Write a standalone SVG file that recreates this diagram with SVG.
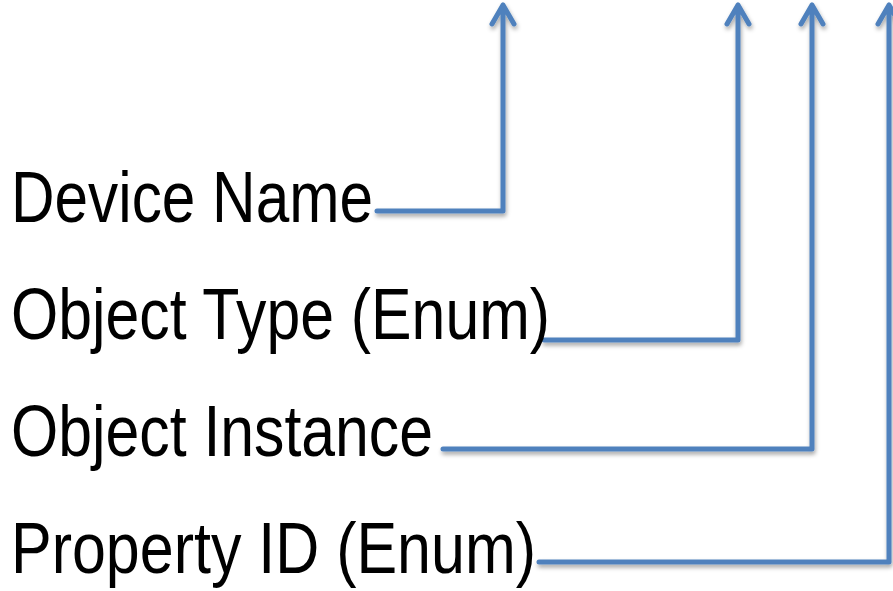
<svg xmlns="http://www.w3.org/2000/svg" width="893" height="591" viewBox="0 0 893 591">
  <defs>
    <filter id="shadow" x="-10%" y="-10%" width="130%" height="130%">
      <feDropShadow dx="1" dy="3" stdDeviation="2" flood-color="#000" flood-opacity="0.35"/>
    </filter>
    <style>
      .lbl { font-family: "Liberation Sans", Arial, sans-serif; font-size: 73px; fill: #000; }
      .conn { fill: none; stroke: #4F81BD; stroke-width: 5; stroke-linejoin: round; stroke-linecap: round; }
    </style>
  </defs>
  <rect width="893" height="591" fill="#fff"/>
  <g id="connectors" filter="url(#shadow)">
    <path class="conn" d="M377 211 H503 V5 M492 24 L503 5 L514 24"/>
    <path class="conn" d="M544 340 H738 V5 M727 24 L738 5 L749 24"/>
    <path class="conn" d="M443 449 H812 V5 M801 24 L812 5 L823 24"/>
    <path class="conn" d="M539 562 H889 V5 M878 24 L889 5 L900 24"/>
  </g>
  <g id="device-name"><text class="lbl" x="11" y="222" textLength="362" lengthAdjust="spacingAndGlyphs">Device Name</text></g>
  <g id="object-type"><text class="lbl" x="11" y="339" textLength="539" lengthAdjust="spacingAndGlyphs">Object Type (Enum)</text></g>
  <g id="object-instance"><text class="lbl" x="11" y="456" textLength="422" lengthAdjust="spacingAndGlyphs">Object Instance</text></g>
  <g id="property-id"><text class="lbl" x="11" y="573" textLength="525" lengthAdjust="spacingAndGlyphs">Property ID (Enum)</text></g>
</svg>
